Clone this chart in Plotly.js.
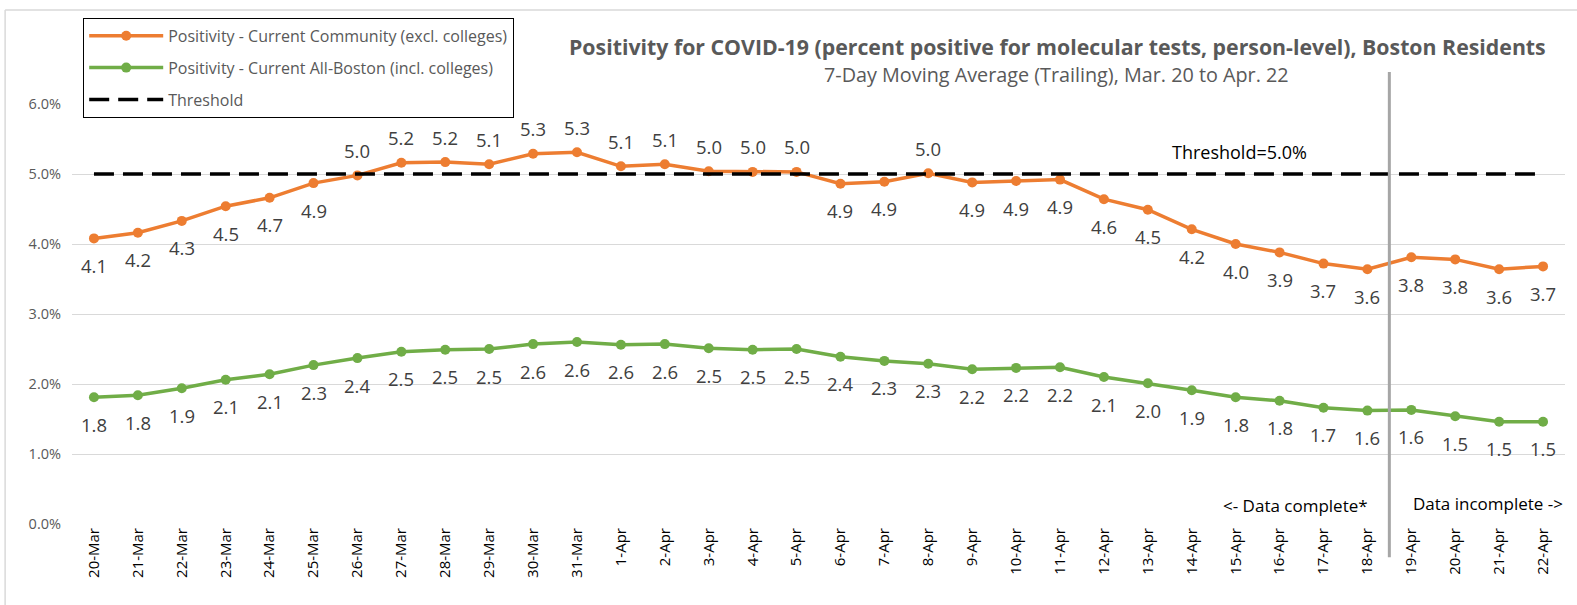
<!DOCTYPE html>
<html>
<head>
<meta charset="utf-8">
<script src="https://cdn.plot.ly/plotly-3.0.1.min.js"></script>
<style>
html,body{margin:0;padding:0;background:#fff;}
#chart{width:1577px;height:605px;}
</style>
</head>
<body>
<div id="chart"></div>
<script>
const categories = ["20-Mar","21-Mar","22-Mar","23-Mar","24-Mar","25-Mar","26-Mar","27-Mar","28-Mar","29-Mar","30-Mar","31-Mar",
  "1-Apr","2-Apr","3-Apr","4-Apr","5-Apr","6-Apr","7-Apr","8-Apr","9-Apr","10-Apr","11-Apr","12-Apr","13-Apr","14-Apr",
  "15-Apr","16-Apr","17-Apr","18-Apr","19-Apr","20-Apr","21-Apr","22-Apr"];
const community = [4.08,4.16,4.33,4.54,4.66,4.87,4.98,5.16,5.17,5.14,5.29,5.31,
  5.11,5.14,5.04,5.03,5.03,4.86,4.89,5.01,4.88,4.90,4.92,4.64,4.49,4.21,
  4.00,3.88,3.72,3.64,3.81,3.78,3.64,3.68];
const allBoston = [1.81,1.84,1.94,2.06,2.14,2.27,2.37,2.46,2.49,2.50,2.57,2.60,
  2.56,2.57,2.51,2.49,2.50,2.39,2.33,2.29,2.21,2.23,2.24,2.10,2.01,1.91,
  1.81,1.76,1.66,1.62,1.63,1.54,1.46,1.46];
// label placement for the community series: 1 = above the point, 0 = below
const communityLabelAbove = [0,0,0,0,0,0,1,1,1,1,1,1,1,1,1,1,1,0,0,1,0,0,0,0,0,0,0,0,0,0,0,0,0,0];
const threshold = categories.map(() => 5.0);
const yTicks = [0,1,2,3,4,5,6];
const yTickText = ["0.0%","1.0%","2.0%","3.0%","4.0%","5.0%","6.0%"];

const FONT = "'Open Sans', sans-serif";
const ORANGE = "#ED7D31", GREEN = "#70AD47";

const traces = [
  {x: categories, y: community, type: "scatter", mode: "lines+markers", legendgroup: "a",
   name: "Positivity - Current Community (excl. colleges)",
   line: {color: ORANGE, width: 3.5}, marker: {color: ORANGE, size: 10}},
  {x: categories, y: allBoston, type: "scatter", mode: "lines+markers", legendgroup: "b",
   name: "Positivity - Current All-Boston (incl. colleges)",
   line: {color: GREEN, width: 3.5}, marker: {color: GREEN, size: 10}},
  {x: categories, y: threshold, type: "scatter", mode: "lines", legendgroup: "c",
   name: "Threshold", line: {color: "#000000", width: 3.5, dash: "20px,9px"}}
];

const labelFont = {family: FONT, size: 18.5, color: "#404040"};
const annotations = [];
categories.forEach((c, i) => {
  const above = communityLabelAbove[i] === 1;
  annotations.push({x: c, y: community[i], xref: "x", yref: "y", text: community[i].toFixed(1),
    showarrow: false, yshift: above ? 25 : -27, xanchor: "center", yanchor: "middle", font: labelFont});
  annotations.push({x: c, y: allBoston[i], xref: "x", yref: "y", text: allBoston[i].toFixed(1),
    showarrow: false, yshift: -27, xanchor: "center", yanchor: "middle", font: labelFont});
});
annotations.push(
  {xref: "paper", yref: "paper", x: 0.660, y: 1.138, xanchor: "center", yanchor: "middle", showarrow: false,
   text: "<b>Positivity for COVID-19 (percent positive for molecular tests, person-level), Boston Residents</b>",
   font: {family: FONT, size: 21.3, color: "#595959"}},
  {xref: "paper", yref: "paper", x: 0.6595, y: 1.071, xanchor: "center", yanchor: "middle", showarrow: false,
   text: "7-Day Moving Average (Trailing), Mar. 20 to Apr. 22",
   font: {family: FONT, size: 19.8, color: "#595959"}},
  {xref: "paper", yref: "paper", x: 0.782, y: 0.886, xanchor: "center", yanchor: "middle", showarrow: false,
   text: "Threshold=5.0%", font: {family: FONT, size: 18, color: "#000000"}},
  {xref: "paper", yref: "paper", x: 0.8694, y: 0.043, xanchor: "right", yanchor: "middle", showarrow: false,
   text: "<- Data complete*", font: {family: FONT, size: 17, color: "#000000"}},
  {xref: "paper", yref: "paper", x: 0.8969, y: 0.048, xanchor: "left", yanchor: "middle", showarrow: false,
   text: "Data incomplete ->", font: {family: FONT, size: 17, color: "#000000"}}
);

const layout = {
  width: 1577, height: 605,
  margin: {l: 72, r: 12, t: 104, b: 81},
  paper_bgcolor: "#ffffff", plot_bgcolor: "#ffffff",
  font: {family: FONT, color: "#595959"},
  showlegend: true,
  legend: {x: 0.0075, y: 1.205, xanchor: "left", yanchor: "top",
    bordercolor: "#000000", borderwidth: 1, bgcolor: "#ffffff", traceorder: "grouped",
    font: {family: FONT, size: 16, color: "#595959"}, tracegroupgap: 8, itemwidth: 74},
  xaxis: {type: "category", tickangle: -90, showgrid: false, zeroline: false,
    showline: false, ticks: "", tickfont: {family: FONT, size: 15, color: "#000000"},
    range: [-0.5, categories.length - 0.5]},
  yaxis: {range: [0, 6], tickvals: yTicks, ticktext: yTickText, showgrid: true,
    gridcolor: "#D9D9D9", gridwidth: 1, zeroline: false, showline: false, ticks: "",
    ticklabelstandoff: 10,
    tickfont: {family: FONT, size: 14.5, color: "#595959"}, fixedrange: true},
  shapes: [
    {type: "line", xref: "x", yref: "paper", x0: 29.5, x1: 29.5, y0: -0.079, y1: 1.076,
     line: {color: "#A6A6A6", width: 3}},
    {type: "line", xref: "paper", yref: "paper", x0: -0.0448, x1: 1.01, y0: 1.2238, y1: 1.2238,
     line: {color: "#D9D9D9", width: 1.5}},
    {type: "line", xref: "paper", yref: "paper", x0: -0.0448, x1: -0.0448, y0: -0.2, y1: 1.2238,
     line: {color: "#D9D9D9", width: 1.5}}
  ],
  annotations: annotations
};

Plotly.newPlot("chart", traces, layout, {displayModeBar: false, staticPlot: true});
</script>
</body>
</html>
